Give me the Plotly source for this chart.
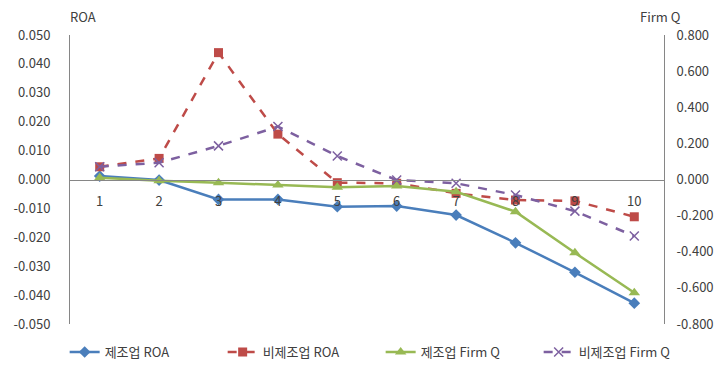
import plotly.graph_objects as go

# Decile groups on the category axis
categories = [1, 2, 3, 4, 5, 6, 7, 8, 9, 10]
cat_labels = [str(c) for c in categories]

# ROA by group (left axis)
roa_mfg = [0.0012, -0.0002, -0.0069, -0.0069, -0.0094, -0.0092, -0.0123, -0.0219, -0.0321, -0.0428]
roa_nonmfg = [0.0044, 0.0073, 0.0439, 0.0157, -0.0011, -0.0013, -0.0048, -0.0071, -0.0074, -0.0129]

# Firm Q by group (right axis)
q_mfg = [0.010, -0.007, -0.018, -0.030, -0.043, -0.036, -0.068, -0.178, -0.406, -0.627]
q_nonmfg = [0.071, 0.093, 0.186, 0.293, 0.130, -0.003, -0.021, -0.086, -0.175, -0.313]

# Axis ticks
y1_ticks = [round(-0.05 + 0.01 * i, 3) for i in range(11)]
y2_ticks = [round(-0.8 + 0.2 * i, 1) for i in range(9)]

names = ["제조업 ROA", "비제조업 ROA", "제조업 Firm Q", "비제조업 Firm Q"]

BLUE = "#4A7EBB"
RED = "#BE4B48"
GREEN = "#98B954"
PURPLE = "#7D60A0"

FONT = "Noto Sans CJK KR"
TXT = "#404040"

fig = go.Figure()

fig.add_trace(go.Scatter(
    x=categories, y=roa_mfg, name=names[0], mode="lines+markers",
    line=dict(color=BLUE, width=2.5),
    marker=dict(symbol="diamond", size=9, color=BLUE),
    yaxis="y",
))
fig.add_trace(go.Scatter(
    x=categories, y=roa_nonmfg, name=names[1], mode="lines+markers",
    line=dict(color=RED, width=2.5, dash="dash"),
    marker=dict(symbol="square", size=9, color=RED),
    yaxis="y",
))
fig.add_trace(go.Scatter(
    x=categories, y=q_mfg, name=names[2], mode="lines+markers",
    line=dict(color=GREEN, width=2.5),
    marker=dict(symbol="triangle-up", size=10, color=GREEN),
    yaxis="y2",
))
fig.add_trace(go.Scatter(
    x=categories, y=q_nonmfg, name=names[3], mode="lines+markers",
    line=dict(color=PURPLE, width=2.5, dash="dash"),
    marker=dict(symbol="x-thin", size=9, line=dict(color=PURPLE, width=1.5)),
    yaxis="y2",
))

fig.update_layout(
    width=716, height=365,
    margin=dict(l=70, r=52, t=35, b=41, autoexpand=False),
    paper_bgcolor="white", plot_bgcolor="white",
    font=dict(family=FONT, size=13, color=TXT),
    showlegend=True,
    legend=dict(
        orientation="h", x=-0.009, xanchor="left", y=-0.097, yanchor="middle",
        font=dict(family=FONT, size=13, color=TXT),
        itemwidth=30, entrywidth=113, tracegroupgap=0, bgcolor="rgba(0,0,0,0)",
    ),
    xaxis=dict(
        range=[0.5, 10.5],
        tickmode="array", tickvals=categories, ticktext=cat_labels,
        showgrid=False, zeroline=False,
        showline=True, linecolor="#868686", linewidth=1,
        ticks="", anchor="free", position=0.5,
        tickfont=dict(family=FONT, size=13, color=TXT),
        ticklabelstandoff=10,
    ),
    yaxis=dict(
        range=[-0.05, 0.05],
        tickmode="array", tickvals=y1_ticks,
        ticktext=[f"{v:.3f}" for v in y1_ticks],
        showgrid=False, zeroline=False,
        showline=True, linecolor="#868686", linewidth=1, ticks="",
        ticklabelstandoff=16,
        tickfont=dict(family=FONT, size=13, color=TXT),
    ),
    yaxis2=dict(
        range=[-0.8, 0.8], overlaying="y", side="right",
        tickmode="array", tickvals=y2_ticks,
        ticktext=[f"{v:.3f}" for v in y2_ticks],
        showgrid=False, zeroline=False,
        showline=True, linecolor="#868686", linewidth=1, ticks="",
        ticklabelstandoff=9,
        tickfont=dict(family=FONT, size=13, color=TXT),
    ),
    annotations=[
        dict(text="ROA", xref="paper", yref="paper", x=(83 - 70) / 594, y=1 + 18 / 289,
             xanchor="center", yanchor="middle", showarrow=False,
             font=dict(family=FONT, size=13, color=TXT)),
        dict(text="Firm Q", xref="paper", yref="paper", x=(660 - 70) / 594, y=1 + 18 / 289,
             xanchor="center", yanchor="middle", showarrow=False,
             font=dict(family=FONT, size=13, color=TXT)),
    ],
)

fig.write_html("out.html")
